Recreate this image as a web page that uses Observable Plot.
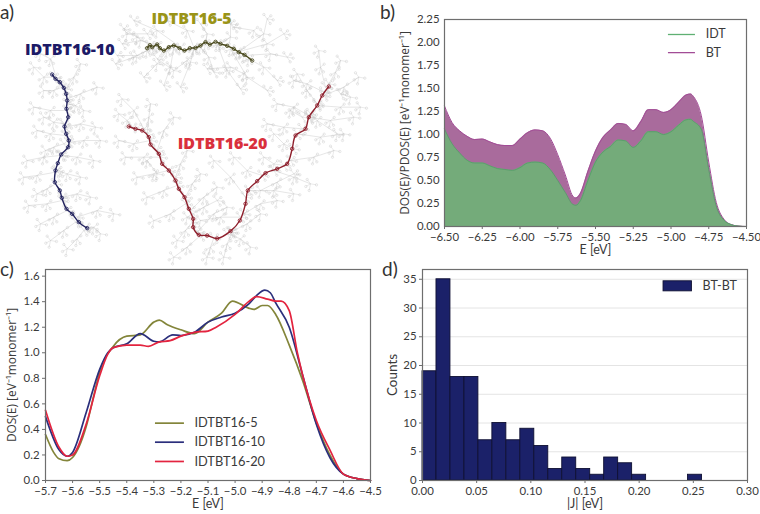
<!DOCTYPE html>
<html><head><meta charset="utf-8">
<script src="https://cdn.jsdelivr.net/npm/d3@7"></script>
<script src="https://cdn.jsdelivr.net/npm/@observablehq/plot@0.6"></script>
<style>
html,body{margin:0;padding:0;background:#fff;}
#root{position:relative;width:760px;height:514px;overflow:hidden;font-family:Lato,sans-serif;}
.p{position:absolute;}
.tag{position:absolute;font:19px Lato,sans-serif;color:#333;line-height:22px;}
.soft{filter:blur(0.35px);}
svg{display:block;}
</style></head><body><div id="root"></div>
<script>
// Panel b: projected density of states
const energyB=[-6.5,-6.45,-6.4,-6.35,-6.3,-6.25,-6.2,-6.15,-6.1,-6.05,-6,-5.95,-5.9,-5.85,-5.8,-5.75,-5.7,-5.65,-5.63,-5.6,-5.55,-5.5,-5.45,-5.4,-5.35,-5.3,-5.25,-5.2,-5.15,-5.1,-5.05,-5,-4.95,-4.9,-4.87,-4.85,-4.8,-4.75,-4.7,-4.65,-4.6,-4.55,-4.5];
const idt=[1.06,0.9,0.8,0.72,0.69,0.69,0.66,0.63,0.62,0.61,0.64,0.69,0.7,0.69,0.62,0.5,0.37,0.24,0.23,0.28,0.5,0.7,0.81,0.87,0.94,0.93,0.86,0.93,1.03,1.03,1,1.03,1.1,1.16,1.165,1.14,1.06,0.62,0.22,0.07,0.02,0.003,0];
const btTop=[1.31,1.13,1.04,0.98,0.945,0.95,0.92,0.89,0.88,0.88,0.95,1.02,1.05,1.04,0.96,0.78,0.56,0.33,0.31,0.36,0.6,0.82,0.97,1.05,1.12,1.11,1.04,1.14,1.27,1.27,1.24,1.27,1.35,1.43,1.44,1.41,1.21,0.7,0.26,0.08,0.02,0.004,0];
// Panel c: total DOS per chain length
const e5=[-5.7,-5.67,-5.65,-5.62,-5.6,-5.55,-5.52,-5.5,-5.45,-5.4,-5.35,-5.3,-5.28,-5.25,-5.2,-5.15,-5.1,-5.05,-5.01,-4.95,-4.93,-4.9,-4.88,-4.85,-4.8,-4.75,-4.7,-4.65,-4.6,-4.55,-4.5];
const dos5=[0.36,0.22,0.17,0.155,0.18,0.42,0.68,0.85,1.05,1.13,1.14,1.24,1.255,1.22,1.18,1.15,1.24,1.31,1.405,1.35,1.34,1.37,1.37,1.3,1.06,0.78,0.45,0.2,0.05,0.015,0];
const e10=[-5.7,-5.65,-5.62,-5.6,-5.55,-5.5,-5.47,-5.45,-5.4,-5.35,-5.3,-5.28,-5.23,-5.2,-5.15,-5.1,-5.05,-5,-4.95,-4.92,-4.89,-4.87,-4.85,-4.8,-4.75,-4.7,-4.65,-4.6,-4.55,-4.5];
const dos10=[0.5,0.24,0.19,0.22,0.53,0.87,1,1.04,1.07,1.15,1.09,1.085,1.14,1.135,1.16,1.24,1.28,1.31,1.38,1.45,1.49,1.47,1.39,1.2,0.82,0.44,0.18,0.05,0.015,0];
const e20=[-5.7,-5.65,-5.62,-5.6,-5.55,-5.5,-5.47,-5.45,-5.4,-5.35,-5.32,-5.28,-5.24,-5.2,-5.15,-5.1,-5.07,-5,-4.95,-4.92,-4.88,-4.85,-4.83,-4.8,-4.77,-4.75,-4.7,-4.65,-4.6,-4.55,-4.5];
const dos20=[0.55,0.26,0.19,0.2,0.44,0.82,0.99,1.04,1.06,1.06,1.05,1.085,1.095,1.13,1.16,1.17,1.2,1.3,1.4,1.44,1.42,1.405,1.405,1.33,1,0.82,0.47,0.24,0.05,0.015,0];
// Panel d: histogram of |J|
const counts=[19,35,18,18,7,10,7,9,6,2,4,2,1,4,3,1,0,0,0,1];
const binWidth=0.0129;
// Panel a: backbones and side chains in zoomed picture units
const chain5=[[440,143],[448,134],[455,140],[470,132],[478,143],[490,150],[505,140],[520,135],[537,143],[552,150],[568,143],[585,142],[600,135],[615,125],[628,132],[645,124],[660,130],[680,136],[700,145],[715,155],[732,163],[755,180]];
const chain10=[[155,222],[165,235],[178,245],[190,262],[197,280],[200,300],[198,325],[203,350],[192,378],[197,400],[205,420],[203,440],[182,462],[172,488],[165,510],[163,545],[178,570],[184,592],[198,625],[215,640],[235,665],[260,683]];
const chain20=[[385,378],[405,385],[425,390],[445,410],[450,432],[475,460],[485,490],[505,510],[525,540],[535,565],[552,590],[565,625],[578,655],[578,680],[595,703],[620,705],[650,714],[690,692],[718,660],[735,610],[742,570],[770,542],[795,518],[830,505],[860,490],[875,445],[885,405],[915,385],[925,350],[950,315],[965,285],[985,258]];
const sides5=[[[370,85],[410,110],[450,135]],[[345,190],[400,170],[460,140]],[[365,130],[420,120],[470,135]],[[430,230],[470,190],[500,150]],[[490,255],[510,200],[520,140]],[[400,60],[470,90],[540,140]],[[540,260],[570,185],[580,145]],[[600,70],[620,100],[615,130]],[[640,215],[625,170],[600,140]],[[720,265],[680,210],[650,130]],[[800,270],[740,230],[690,145]],[[800,55],[790,100],[720,150]],[[850,100],[800,130],[710,155]],[[860,170],[810,160],[730,165]],[[830,240],[790,200],[745,175]],[[500,60],[560,90],[580,140]],[[690,70],[690,110],[660,130]],[[350,165],[410,165],[440,150]],[[470,175],[520,210],[560,180]],[[620,205],[690,200],[730,220]],[[440,100],[380,100]],[[760,90],[700,80]]];
const sides10=[[[100,200],[130,230],[160,230]],[[130,270],[160,270],[185,260]],[[240,190],[220,230],[195,265]],[[290,260],[240,280],[200,295]],[[100,320],[150,330],[200,330]],[[285,380],[240,370],[195,380]],[[110,390],[150,400],[195,405]],[[300,420],[250,420],[205,425]],[[80,480],[130,470],[180,465]],[[280,480],[230,470],[185,465]],[[70,530],[110,525],[165,515]],[[240,530],[200,520],[170,510]],[[110,580],[140,565],[165,550]],[[270,590],[230,580],[185,590]],[[85,615],[140,610],[185,600]],[[120,670],[160,650],[200,630]],[[340,640],[290,630],[230,650]],[[150,720],[190,690],[225,665]],[[300,700],[280,680],[255,680]],[[200,745],[230,715],[250,690]],[[135,450],[160,440],[190,430]],[[250,330],[225,315],[200,310]],[[130,350],[160,365],[190,370]],[[120,160],[150,175],[170,240]]];
const sides20=[[[355,340],[380,360],[395,380]],[[365,295],[400,330],[430,385]],[[450,310],[445,350],[440,400]],[[355,420],[400,430],[450,420]],[[520,350],[490,390],[470,450]],[[375,470],[430,470],[480,470]],[[410,530],[460,520],[505,510]],[[560,450],[540,490],[525,530]],[[440,590],[490,570],[530,555]],[[600,520],[575,550],[555,590]],[[460,660],[510,640],[555,610]],[[650,560],[610,590],[570,630]],[[530,720],[555,690],[575,665]],[[680,620],[640,640],[590,695]],[[520,770],[560,740],[600,705]],[[620,770],[630,740],[640,712]],[[780,640],[740,670],[690,695]],[[750,740],[720,715],[680,700]],[[670,770],[680,730],[695,695]],[[830,600],[780,610],[730,640]],[[640,480],[690,530],[735,590]],[[880,580],[820,570],[745,570]],[[700,470],[740,510],[785,525]],[[930,550],[880,530],[820,510]],[[790,470],[820,490],[850,495]],[[1000,450],[940,470],[870,480]],[[820,400],[850,430],[878,445]],[[1030,400],[960,410],[890,400]],[[800,370],[850,380],[905,385]],[[1060,350],[990,360],[925,350]],[[830,310],[880,320],[925,345]],[[1080,320],[1020,320],[950,315]],[[890,220],[920,270],[950,310]],[[1075,230],[1030,260],[970,285]],[[955,150],[960,200],[975,260]],[[1020,180],[1005,215],[985,250]],[[880,240],[920,250],[970,275]],[[1010,400],[950,360],[930,340]],[[780,570],[830,545],[880,520]],[[600,660],[660,650],[720,650]],[[560,650],[610,620],[650,600]],[[470,520],[440,480]],[[1020,280],[1050,290]],[[870,330],[905,350]]];
// short twigs that hang off every side-chain joint (offsets in the same picture units)
const twigs=[[11,-9],[-10,-13],[-14,8],[9,14],[18,3],[-4,20]];

const ink="#3a3a3a",spine="#6e6e6e",font='Lato,sans-serif',tick=11.4,lab=12.5;
const root=document.getElementById("root");
function put(el,l,t){const d=document.createElement("div");d.className="p";d.style.left=l+"px";d.style.top=t+"px";d.appendChild(el);root.appendChild(d);}
function tag(s,l,t){const d=document.createElement("div");d.className="tag";d.textContent=s;d.style.left=l+"px";d.style.top=t+"px";root.appendChild(d);}
const st={fontFamily:font,fontSize:"11.4px",color:ink,background:"transparent",overflow:"visible"};
const minus=f=>d=>f(d).replace("-","\u2212");
const xLabel=(s,dy)=>Plot.text([s],{frameAnchor:"bottom",dy,fill:ink,fontSize:lab,fontFamily:font});
const yLabel=(s,dx)=>Plot.text([s],{frameAnchor:"left",textAnchor:"middle",dx,rotate:-90,fill:ink,fontSize:11.9,fontFamily:"'Open Sans',sans-serif"});

// ---- panel a
const rows=(groups,n)=>groups.flatMap((g,i)=>g.map(p=>({x:p[0],y:p[1],z:n+i})));
const gray=[...rows(sides5,"a"),...rows(sides10,"b"),...rows(sides20,"c")];
const twigRows=gray.flatMap((p,i)=>[twigs[i%6],twigs[(i+3)%6],twigs[(i+1)%6],twigs[(i+4)%6]].map(t=>({x1:p.x,y1:p.y,x2:p.x+t[0],y2:p.y+t[1]})));
const backbone=(c,col)=>[
 Plot.line(c,{x:d=>d[0],y:d=>d[1],stroke:col,strokeWidth:1.4,curve:"catmull-rom",className:"soft"}),
 Plot.dot(c,{x:d=>d[0],y:d=>d[1],r:1.7,stroke:col,strokeWidth:0.9,fill:"none",className:"soft"})];
put(Plot.plot({width:380,height:260,margin:0,style:st,
 x:{domain:[0,1140],axis:null},y:{domain:[780,0],axis:null},
 marks:[
  Plot.line(gray,{x:"x",y:"y",z:"z",stroke:"#bcbcbc",strokeWidth:0.55,strokeOpacity:0.7,className:"soft"}),
  Plot.link(twigRows,{x1:"x1",y1:"y1",x2:"x2",y2:"y2",stroke:"#bcbcbc",strokeWidth:0.45,strokeOpacity:0.7,className:"soft"}),
  Plot.dot(twigRows,{x:"x2",y:"y2",r:1.2,stroke:"#c4c4c4",strokeWidth:0.4,fill:"none",className:"soft"}),
  ...backbone(chain5,"#4a4a1e"),...backbone(chain10,"#23235e"),...backbone(chain20,"#8e1f2c"),
  Plot.text(["IDTBT16-5"],{x:573,y:55,fill:"#9a9418",fontSize:16,fontWeight:800,fontFamily:"'Open Sans',sans-serif"}),
  Plot.text(["IDTBT16-10"],{x:208,y:149,fill:"#1c1a66",fontSize:16,fontWeight:800,fontFamily:"'Open Sans',sans-serif"}),
  Plot.text(["IDTBT16-20"],{x:666,y:430,fill:"#d9303c",fontSize:16,fontWeight:800,fontFamily:"'Open Sans',sans-serif"})
 ]}),0,0);

// ---- panel b
const bRows=energyB.map((e,i)=>({e,idt:idt[i],top:btTop[i]}));
put(Plot.plot({width:380,height:260,marginLeft:64,marginRight:14,marginTop:19,marginBottom:34,style:st,
 x:{domain:[-6.5,-4.5]},y:{domain:[0,2.25]},
 marks:[
  Plot.areaY(bRows,{x:"e",y:"top",fill:"#a96b9c",curve:"monotone-x"}),
  Plot.lineY(bRows,{x:"e",y:"top",stroke:"#a24c96",strokeWidth:1,curve:"monotone-x"}),
  Plot.areaY(bRows,{x:"e",y:"idt",fill:"#74ab7a",curve:"monotone-x"}),
  Plot.lineY(bRows,{x:"e",y:"idt",stroke:"#5a9f6c",strokeWidth:1,curve:"monotone-x"}),
  Plot.axisX({ticks:d3.range(-6.5,-4.49,0.25),tickFormat:minus(d3.format(".2f")),tickSize:3,tickPadding:3,stroke:spine,fill:ink,fontSize:tick,label:null}),
  Plot.axisY({ticks:d3.range(0,2.26,0.25),tickFormat:d3.format(".2f"),tickSize:0,tickPadding:5,fill:ink,fontSize:tick,label:null}),
  xLabel("E [eV]",27),
  yLabel("DOS(E)/PDOS(E) [eV\u207B\u00B9monomer\u207B\u00B9]",-39),
  Plot.frame({stroke:spine,strokeWidth:1.2}),
  Plot.ruleY([2.087],{x1:-5.017,x2:-4.838,stroke:"#5fb073",strokeWidth:1.3}),
  Plot.ruleY([1.89],{x1:-5.017,x2:-4.838,stroke:"#a24c96",strokeWidth:1.3}),
  Plot.text(["IDT"],{x:-4.77,y:2.087,textAnchor:"start",fill:ink,fontSize:12.5,fontFamily:font}),
  Plot.text(["BT"],{x:-4.77,y:1.89,textAnchor:"start",fill:ink,fontSize:12.5,fontFamily:font})
 ]}),380,0);

// ---- panel c
const series=[["IDTBT16-5",e5,dos5,"#83853a"],["IDTBT16-10",e10,dos10,"#2b2f7c"],["IDTBT16-20",e20,dos20,"#e3243f"]];
const legY=[0.449,0.30,0.149];
put(Plot.plot({width:380,height:259,marginLeft:45,marginRight:10,marginTop:14,marginBottom:34,style:st,
 x:{domain:[-5.7,-4.5]},y:{domain:[0,1.652]},
 marks:[
  ...series.map(([n,xs,ys,c])=>Plot.line(ys,{x:(d,i)=>xs[i],y:d=>d,stroke:c,strokeWidth:1.7,curve:"monotone-x"})),
  Plot.axisX({ticks:d3.range(-5.7,-4.49,0.1),tickFormat:minus(d3.format(".1f")),tickSize:3,tickPadding:3,stroke:spine,fill:ink,fontSize:tick,label:null}),
  Plot.axisY({ticks:d3.range(0,1.61,0.2),tickFormat:d3.format(".1f"),tickSize:3,tickPadding:3,stroke:spine,fill:ink,fontSize:tick,label:null}),
  xLabel("E [eV]",27),
  yLabel("DOS(E) [eV\u207B\u00B9monomer\u207B\u00B9]",-33),
  Plot.frame({stroke:spine,strokeWidth:1.2}),
  ...series.map(([n,,,c],i)=>Plot.ruleY([legY[i]],{x1:-5.294,x2:-5.187,stroke:c,strokeWidth:1.7})),
  ...series.map(([n],i)=>Plot.text([n],{x:-5.15,y:legY[i],textAnchor:"start",fill:ink,fontSize:12.8,fontFamily:font}))
 ]}),0,255);

// ---- panel d
const bars=counts.map((c,i)=>({x1:i*binWidth,x2:(i+1)*binWidth,c})).filter(d=>d.c>0);
put(Plot.plot({width:380,height:259,marginLeft:42,marginRight:13,marginTop:14,marginBottom:34,style:st,
 x:{domain:[0,0.3]},y:{domain:[0,36.7]},
 marks:[
  Plot.ruleY(d3.range(5,36,5),{stroke:"#e4e4e4",strokeWidth:1}),
  Plot.rectY(bars,{x1:"x1",x2:"x2",y:"c",fill:"#1b2169",stroke:"#0f1033",strokeWidth:0.9}),
  Plot.axisX({ticks:d3.range(0,0.301,0.05),tickFormat:d3.format(".2f"),tickSize:3,tickPadding:3,stroke:spine,fill:ink,fontSize:tick,label:null}),
  Plot.axisY({ticks:d3.range(0,36,5),tickFormat:d3.format("d"),tickSize:3,tickPadding:3,stroke:spine,fill:ink,fontSize:tick,label:null}),
  xLabel("|J| [eV]",27),
  Plot.text(["Counts"],{frameAnchor:"left",textAnchor:"middle",dx:-30,rotate:-90,fill:ink,fontSize:13.5,fontFamily:font}),
  Plot.frame({stroke:spine,strokeWidth:1.2}),
  Plot.rect([0],{x1:0.2225,x2:0.2487,y1:32.9,y2:34.65,fill:"#1b2169",stroke:"#0f1033",strokeWidth:0.9}),
  Plot.text(["BT-BT"],{x:0.2585,y:33.75,textAnchor:"start",fill:ink,fontSize:12.5,fontFamily:font})
 ]}),380,255);

tag("a)",0,1);tag("b)",380,1);tag("c)",0,258);tag("d)",382,258);
</script></body></html>
